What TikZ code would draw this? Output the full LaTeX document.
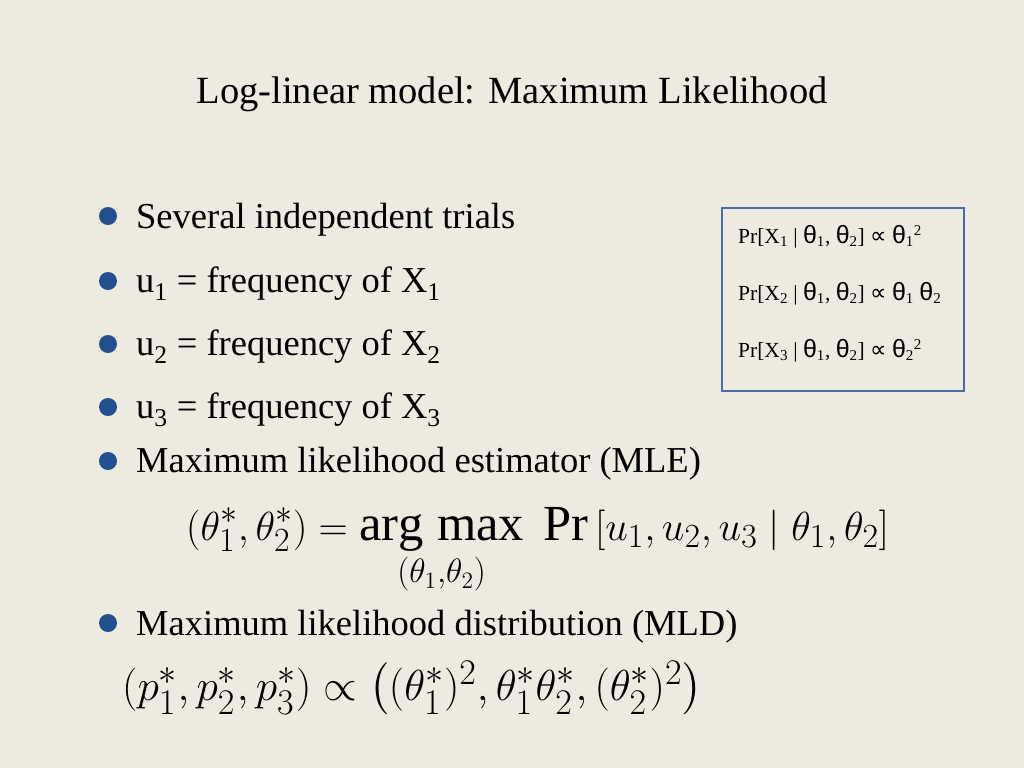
\documentclass[tikz,border=0pt]{standalone}
\usepackage{amsmath}
\usepackage{graphicx}
\usepackage{fontspec}
\setmainfont{Liberation Serif}
\newfontfamily\sansf{Liberation Sans}
\newfontfamily\djv{DejaVu Sans}
\definecolor{bg}{HTML}{EDEAE0}
\definecolor{bul}{HTML}{23508F}
\definecolor{boxc}{HTML}{4A6DAA}
\tikzset{txt/.style={anchor=base west,inner sep=0pt,font=\fontsize{36.5}{42}\selectfont},
 bullet/.style={circle,fill=bul,inner sep=0pt,minimum size=18pt},
 bx/.style={anchor=base west,inner sep=0pt,font=\fontsize{21.5}{24}\selectfont}}
\newcommand{\thz}[1]{{\sansf\fontsize{25}{28}\selectfont θ}\textsubscript{#1}}
\newcommand{\prp}{{\djv\fontsize{23}{26}\selectfont ∝}}
\begin{document}
\begin{tikzpicture}[x=1pt,y=-1pt]
\fill[bg] (0,0) rectangle (1024,768);
\node[anchor=base,inner sep=0pt,font=\fontsize{38.5}{44}\selectfont] (title) at (512,103) {Log-linear model: Maximum Likelihood};
\foreach \y/\n in {216/a,281/b,344/c,407/d,461/e,623/f}{\node[bullet] (b\n) at (108,\y) {};}
\node[txt] (t1) at (136,228) {Several independent trials};
\node[txt] (t2) at (136,292) {u\textsubscript{1} = frequency of X\textsubscript{1}};
\node[txt] (t3) at (136,355) {u\textsubscript{2} = frequency of X\textsubscript{2}};
\node[txt] (t4) at (136,418) {u\textsubscript{3} = frequency of X\textsubscript{3}};
\node[txt] (t5) at (136,472) {Maximum likelihood estimator (MLE)};
\node[txt] (t6) at (136,635) {Maximum likelihood distribution (MLD)};
\node[txt,font=\fontsize{31}{36}\selectfont] (e1) at (186,540) {\scalebox{1.63}{$\displaystyle(\theta_1^*,\theta_2^*)=\mathop{\arg\,\max}\limits_{(\theta_1,\theta_2)}\ \Pr\left[u_1,u_2,u_3\mid\theta_1,\theta_2\right]$}};
\node[txt,font=\fontsize{31}{36}\selectfont] (e2) at (122,700) {\scalebox{1.74}{$(p_1^*,p_2^*,p_3^*)\propto\left((\theta_1^*)^2,\theta_1^*\theta_2^*,(\theta_2^*)^2\right)$}};
\node[draw=boxc,line width=2pt,minimum width=242pt,minimum height=183pt,anchor=north west,inner sep=0pt] (box) at (721,207) {};
\node[bx] (p1) at (738,243) {Pr[X\textsubscript{1} | \thz{1}, \thz{2}] \prp{} \thz{1}\textsuperscript{2}};
\node[bx] (p2) at (738,300) {Pr[X\textsubscript{2} | \thz{1}, \thz{2}] \prp{} \thz{1} \thz{2}};
\node[bx] (p3) at (738,357) {Pr[X\textsubscript{3} | \thz{1}, \thz{2}] \prp{} \thz{2}\textsuperscript{2}};
\end{tikzpicture}
\end{document}
